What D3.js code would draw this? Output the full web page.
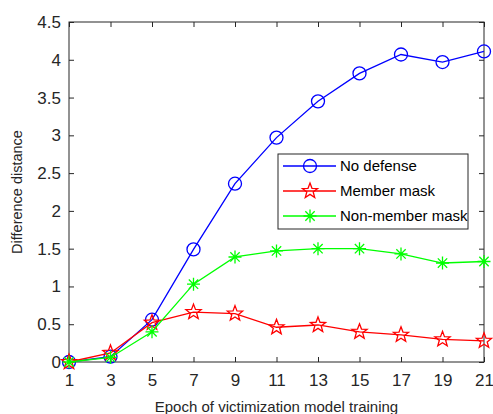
<!DOCTYPE html>
<html>
<head>
<meta charset="utf-8">
<script src="https://cdn.jsdelivr.net/npm/d3@7"></script>
<style>
  body { margin: 0; background: #fff; }
  text { font-family: "Liberation Sans", Arial, sans-serif; }
</style>
</head>
<body>
<svg id="chart" width="493" height="414"></svg>
<script>
const epochs = [1, 3, 5, 7, 9, 11, 13, 15, 17, 19, 21];
const noDefense = [0, 0.07, 0.56, 1.49, 2.36, 2.97, 3.45, 3.82, 4.07, 3.97, 4.11];
const memberMask = [0, 0.12, 0.52, 0.66, 0.64, 0.46, 0.49, 0.40, 0.36, 0.30, 0.28];
const nonMemberMask = [0, 0.06, 0.40, 1.03, 1.39, 1.47, 1.50, 1.50, 1.43, 1.31, 1.33];
const yTicks = [0, 0.5, 1, 1.5, 2, 2.5, 3, 3.5, 4, 4.5];

const series = [
  { name: "No defense", values: noDefense, color: "#0000ff", marker: "circle" },
  { name: "Member mask", values: memberMask, color: "#ff0000", marker: "star" },
  { name: "Non-member mask", values: nonMemberMask, color: "#00ff00", marker: "asterisk" }
];

const svg = d3.select("#chart");
const plot = { left: 69, right: 484, top: 22, bottom: 362 };
const axisColor = "#262626";

const x = d3.scaleLinear().domain([1, 21]).range([plot.left, plot.right]);
const y = d3.scaleLinear().domain([0, 4.5]).range([plot.bottom, plot.top]);

// frame
svg.append("rect")
  .attr("x", plot.left).attr("y", plot.top)
  .attr("width", plot.right - plot.left).attr("height", plot.bottom - plot.top)
  .attr("fill", "none").attr("stroke", axisColor).attr("stroke-width", 1);

const tickLen = 5;
const gx = svg.append("g").attr("transform", `translate(0,${plot.bottom})`)
  .call(d3.axisBottom(x).tickValues(epochs).tickSize(-tickLen).tickPadding(12).tickFormat(d3.format("d")));
const gxTop = svg.append("g").attr("transform", `translate(0,${plot.top})`)
  .call(d3.axisTop(x).tickValues(epochs).tickSize(-tickLen).tickFormat(""));
const gy = svg.append("g").attr("transform", `translate(${plot.left},0)`)
  .call(d3.axisLeft(y).tickValues(yTicks).tickSize(-tickLen).tickPadding(8).tickFormat(d => d));
const gyRight = svg.append("g").attr("transform", `translate(${plot.right},0)`)
  .call(d3.axisRight(y).tickValues(yTicks).tickSize(-tickLen).tickFormat(""));

[gx, gxTop, gy, gyRight].forEach(g => {
  g.select(".domain").remove();
  g.selectAll("line").attr("stroke", axisColor);
  g.selectAll("text").attr("fill", axisColor).style("font-size", "17px")
    .style("font-family", "'Liberation Sans', Arial, sans-serif");
});

// axis labels
svg.append("text")
  .attr("x", (plot.left + plot.right) / 2).attr("y", 412)
  .attr("text-anchor", "middle").attr("fill", axisColor)
  .style("font-size", "15px")
  .text("Epoch of victimization model training");

svg.append("text")
  .attr("transform", `translate(22,${(plot.top + plot.bottom) / 2}) rotate(-90)`)
  .attr("text-anchor", "middle").attr("fill", axisColor)
  .style("font-size", "14.5px")
  .text("Difference distance");

// markers
function starPath(r) {
  const pts = [];
  for (let i = 0; i < 10; i++) {
    const a = -Math.PI / 2 + i * Math.PI / 5;
    const rr = i % 2 === 0 ? r : r * 0.42;
    pts.push([rr * Math.cos(a), rr * Math.sin(a)]);
  }
  return "M" + pts.map(p => p.join(",")).join("L") + "Z";
}
function asteriskPath(r) {
  const d = r * 0.72;
  return `M${-r},0L${r},0M0,${-r}L0,${r}M${-d},${-d}L${d},${d}M${-d},${d}L${d},${-d}`;
}
function drawMarker(g, type, color, cx, cy) {
  if (type === "circle") {
    g.append("circle").attr("cx", cx).attr("cy", cy).attr("r", 6.5)
      .attr("fill", "none").attr("stroke", color).attr("stroke-width", 1.3);
  } else if (type === "star") {
    g.append("path").attr("d", starPath(8)).attr("transform", `translate(${cx},${cy})`)
      .attr("fill", "none").attr("stroke", color).attr("stroke-width", 1.3);
  } else {
    g.append("path").attr("d", asteriskPath(6.5)).attr("transform", `translate(${cx},${cy})`)
      .attr("fill", "none").attr("stroke", color).attr("stroke-width", 1.3);
  }
}

const line = d3.line().x(d => x(d[0])).y(d => y(d[1]));

series.forEach(s => {
  const pts = epochs.map((e, i) => [e, s.values[i]]);
  const g = svg.append("g");
  g.append("path").attr("d", line(pts))
    .attr("fill", "none").attr("stroke", s.color).attr("stroke-width", 1.3);
  pts.forEach(p => drawMarker(g, s.marker, s.color, x(p[0]), y(p[1])));
});

// legend
const lg = svg.append("g").attr("transform", "translate(278,154)");
lg.append("rect").attr("width", 190).attr("height", 75)
  .attr("fill", "#fff").attr("stroke", axisColor).attr("stroke-width", 1);
series.forEach((s, i) => {
  const yy = 12 + i * 25;
  lg.append("line").attr("x1", 5).attr("x2", 58).attr("y1", yy).attr("y2", yy)
    .attr("stroke", s.color).attr("stroke-width", 1.3);
  drawMarker(lg, s.marker, s.color, 32, yy);
  lg.append("text").attr("x", 62).attr("y", yy + 5)
    .attr("fill", "#000").style("font-size", "15px").text(s.name);
});
</script>
</body>
</html>
